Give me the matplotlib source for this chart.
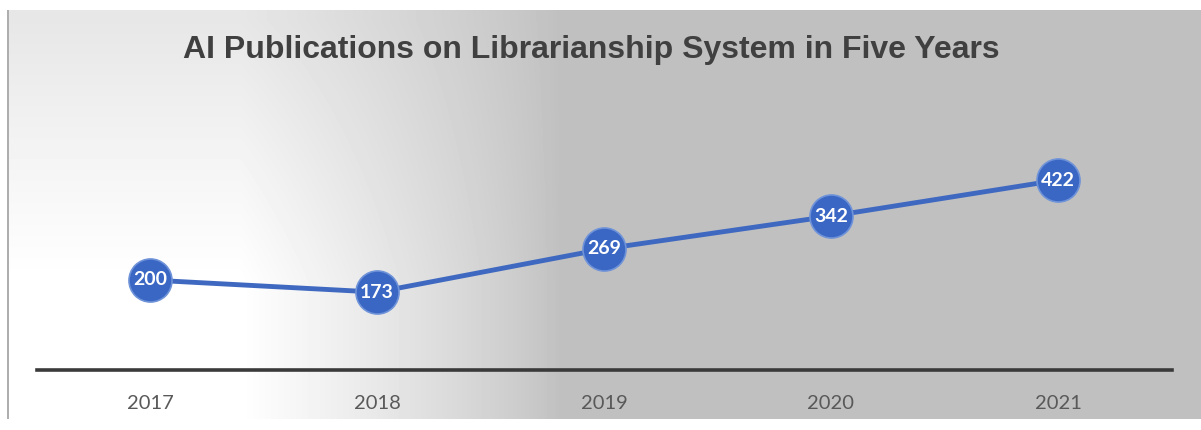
import numpy as np
import matplotlib.pyplot as plt

# yearly counts of AI publications
years = ['2017', '2018', '2019', '2020', '2021']
counts = [200, 173, 269, 342, 422]

W, H = 1201, 430
fig = plt.figure(figsize=(W / 100, H / 100), dpi=100)

# background: white glow at lower left fading into flat gray
bg = fig.add_axes([0, 0, 1, 1])
bg.set_xlim(0, W)
bg.set_ylim(H, 0)
bg.axis('off')
xx, yy = np.meshgrid(np.arange(W), np.arange(H))
h = 1 - np.clip((xx - 240) / 320.0, 0, 1)
v = 0.55 + 0.45 * np.clip((yy - 20) / 260.0, 0, 1)
glow = np.clip(h * v, 0, 1) ** 0.8
gray = 0.75
img = gray + (1 - gray) * glow
img[:10, :] = 1
img[419:, :] = 1
img[:, :7] = 1
img[10:419, 7:9] = 0.68
bg.imshow(img, cmap='gray', vmin=0, vmax=1, extent=(0, W, H, 0), aspect='auto')

fig.text(591 / W, 1 - 50 / H, 'AI Publications on Librarianship System in Five Years',
         ha='center', va='center', fontsize=23, fontweight='bold',
         family='Liberation Sans', color='#404040')

ax = fig.add_axes([36.5 / W, 1 - 370 / H, 1135 / W, 225 / H])
ax.patch.set_alpha(0)
x = np.arange(len(years))
ax.plot(x, counts, color='#3f69c0', lw=3.5, marker='o', ms=31,
        markerfacecolor='#3a66c4', markeredgecolor='#6f93d8', markeredgewidth=1.2,
        solid_capstyle='round')
for xi, c in zip(x, counts):
    ax.text(xi, c, str(c), ha='center', va='center', color='white',
            fontsize=14, fontweight='bold', family='Lato')

ax.set_xlim(-0.5, len(years) - 0.5)
ax.set_ylim(0, 500)
ax.set_xticks(x)
ax.set_xticklabels(years, family='Lato', fontsize=14.5, color='#595959')
ax.tick_params(axis='x', length=0, pad=18)
ax.set_yticks([])
for s in ['left', 'right', 'top']:
    ax.spines[s].set_visible(False)
ax.spines['bottom'].set_color('#3a3a3a')
ax.spines['bottom'].set_linewidth(2.6)

fig.savefig('out.png', dpi=100)
